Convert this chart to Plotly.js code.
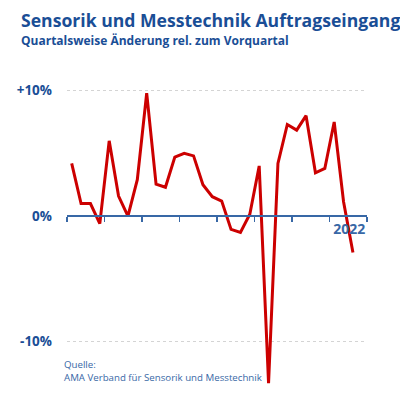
<!DOCTYPE html>
<html><head><meta charset="utf-8">
<script src="https://cdn.plot.ly/plotly-3.0.1.min.js"></script>
<style>html,body{margin:0;padding:0;background:#fff}#chart{width:400px;height:395px}</style>
</head><body><div id="chart"></div>
<script>
// Quarter labels (Q1 2015 .. Q3 2022)
const quarters = ["2015 Q1","2015 Q2","2015 Q3","2015 Q4","2016 Q1","2016 Q2","2016 Q3","2016 Q4",
  "2017 Q1","2017 Q2","2017 Q3","2017 Q4","2018 Q1","2018 Q2","2018 Q3","2018 Q4",
  "2019 Q1","2019 Q2","2019 Q3","2019 Q4","2020 Q1","2020 Q2","2020 Q3","2020 Q4",
  "2021 Q1","2021 Q2","2021 Q3","2021 Q4","2022 Q1","2022 Q2","2022 Q3"];
// Quarter-on-quarter change in %
const changePct = [4.2, 1.0, 1.0, -0.6, 6.0, 1.6, 0.0, 2.9, 9.8, 2.55, 2.3, 4.7, 5.0, 4.8, 2.5, 1.55,
  1.2, -1.05, -1.3, 0.15, 4.0, -13.3, 4.2, 7.3, 6.85, 8.0, 3.45, 3.8, 7.5, 1.15, -2.9];
const yTickVals = [-10, 0, 10];
const yTickText = ["-10%", "0%", "+10%"];
const yearBoundaries = [-0.5, 3.5, 7.5, 11.5, 15.5, 19.5, 23.5, 27.5, 31.5];
const yearLabels = ["", "", "", "", "", "", "", "", "2022"];

const xIdx = quarters.map((q, i) => i);
const darkBlue = "#1a4e96", midBlue = "#3868a6";
const FONT = "Open Sans, Noto Sans, sans-serif";

const trace = {
  x: xIdx, y: changePct, text: quarters, type: "scatter", mode: "lines",
  line: {color: "#cc0000", width: 3, shape: "linear"},
  hovertemplate: "%{text}: %{y}%<extra></extra>", cliponaxis: false
};

const layout = {
  width: 400, height: 395,
  margin: {l: 67, r: 32.5, t: 78, b: 3},
  paper_bgcolor: "#fff", plot_bgcolor: "#fff",
  showlegend: false,
  font: {family: FONT, color: midBlue},
  xaxis: {
    range: [-0.5, 31.5], anchor: "free", position: 14/25,
    showgrid: false, zeroline: false,
    showline: true, linecolor: midBlue, linewidth: 2,
    ticks: "outside", ticklen: 5, tickwidth: 1.5, tickcolor: midBlue,
    tickvals: yearBoundaries, ticktext: yearLabels,
    ticklabelposition: "outside left",
    tickfont: {family: FONT, size: 14, color: midBlue, weight: "bold"}
  },
  yaxis: {
    range: [-14, 11], showline: false, zeroline: false,
    tickvals: yTickVals, ticktext: yTickText, ticks: "",
    ticklabelstandoff: 14,
    showgrid: true, gridcolor: "#d4d4d4", gridwidth: 1, griddash: "dot",
    tickfont: {family: FONT, size: 13.5, color: darkBlue, weight: "bold"}
  },
  annotations: [
    {xref: "paper", yref: "paper", x: -0.16, y: 1.186, xanchor: "left", yanchor: "middle", showarrow: false,
     text: "<b>Sensorik und Messtechnik Auftragseingang</b>", font: {family: FONT, size: 17.6, color: darkBlue}},
    {xref: "paper", yref: "paper", x: -0.16, y: 1.119, xanchor: "left", yanchor: "middle", showarrow: false,
     text: "<b>Quartalsweise Änderung rel. zum Vorquartal</b>", font: {family: FONT, size: 12, color: darkBlue}},
    {xref: "paper", yref: "paper", x: -0.017, y: 0.066, xanchor: "left", yanchor: "middle", showarrow: false, align: "left",
     text: "Quelle:<br>AMA Verband für Sensorik und Messtechnik", font: {family: FONT, size: 9.7, color: midBlue}}
  ]
};

Plotly.newPlot("chart", [trace], layout, {displayModeBar: false, staticPlot: true});
</script></body></html>
